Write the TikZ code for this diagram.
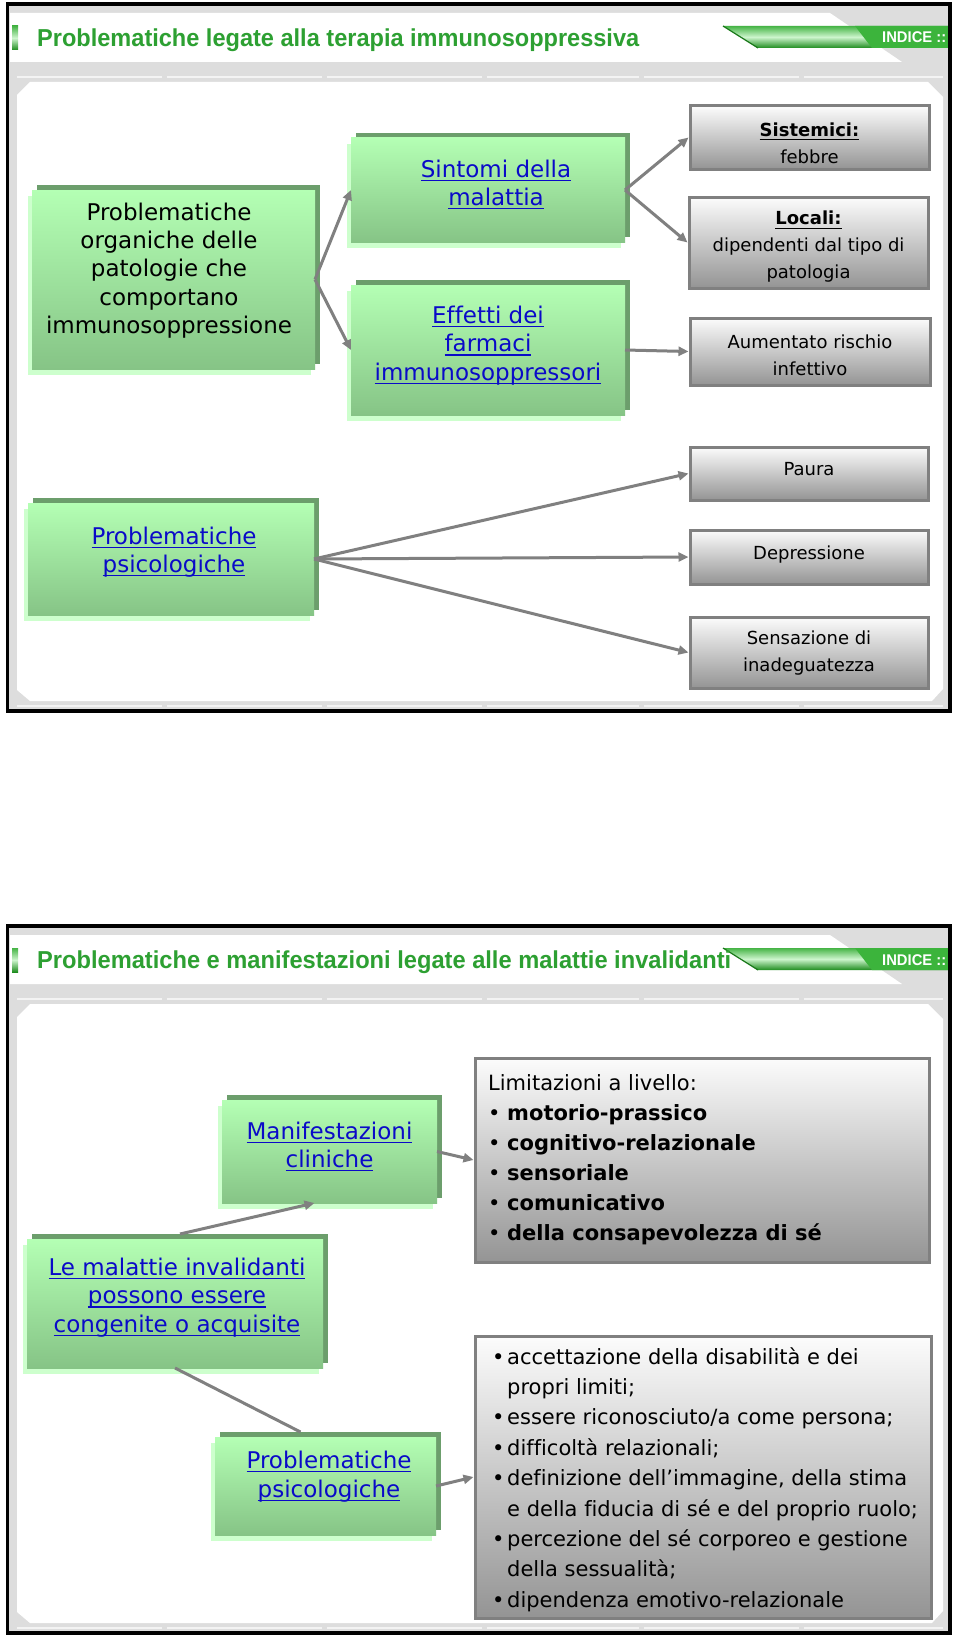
\documentclass[tikz,border=0pt]{standalone}
\usepackage{fontspec}
\setmainfont{DejaVu Sans}[Ligatures=NoCommon]
\newfontfamily\ttlfont{Liberation Sans}
\usepackage{graphicx}
\usetikzlibrary{arrows.meta,shadows}
\definecolor{framegray}{RGB}{221,221,221}
\definecolor{sepgray}{RGB}{243,243,243}
\definecolor{ttlgreen}{RGB}{45,160,50}
\definecolor{gtop}{RGB}{180,255,180}
\definecolor{gbot}{RGB}{134,196,134}
\definecolor{gshadow}{RGB}{108,158,108}
\definecolor{gglow}{RGB}{205,255,205}
\definecolor{lnkblue}{RGB}{10,10,200}
\definecolor{arrgray}{RGB}{128,128,128}
\definecolor{bxtop}{RGB}{252,252,252}
\definecolor{bxbot}{RGB}{148,148,148}
\definecolor{tabtop}{RGB}{70,180,70}
\definecolor{tabmid}{RGB}{205,245,205}
\definecolor{tabbot}{RGB}{30,140,30}
\definecolor{tabsolid}{RGB}{60,180,60}
\definecolor{tabdark}{RGB}{25,120,25}
\newsavebox\lnkbox
\newcommand\lnk[1]{\leavevmode\sbox\lnkbox{#1}\rlap{\rule[-3.8pt]{\wd\lnkbox}{1.2pt}}\usebox\lnkbox}
\tikzset{
  greenbox/.style={inner sep=0pt, outer sep=0pt, top color=gtop, bottom color=gbot, draw=none,
    general shadow={fill=gglow, shadow xshift=-4pt, shadow yshift=-6pt},
    general shadow={fill=gshadow, shadow xshift=5pt, shadow yshift=5pt}},
  graybox/.style={inner sep=0pt, draw=arrgray, line width=3pt, top color=bxtop, bottom color=bxbot},
  gtext/.style={align=center, inner sep=0pt, font=\fontsize{23}{28.4}\selectfont},
  ltext/.style={gtext, text=lnkblue},
  stext/.style={align=center, inner sep=0pt, font=\fontsize{18}{27}\selectfont},
  btext/.style={anchor=base west, inner sep=0pt, font=\fontsize{21}{21}\selectfont},
  conn/.style={draw=arrgray, line width=3pt, -{Triangle[length=10pt,width=9pt]}},
  plainconn/.style={draw=arrgray, line width=3pt},
  ttl/.style={anchor=base west, inner sep=0pt, text=ttlgreen},
}
\newcommand\slidebg[1]{%
  \fill[framegray] (7.5,4) rectangle (950,711);
  \fill[white] (10,13) -- (830,13) -- (902,62) -- (10,62) -- cycle;
  \foreach \sa/\sb in {17/162,167/322,327/482,487/639,644/799,804/943}{
     \draw[sepgray, line width=2pt] (\sa,77) -- (\sb,77);
     \draw[sepgray, line width=2pt] (\sa,706) -- (\sb,706);}
  \fill[white] (17,95) -- (30,82) -- (928,82) -- (943,97) -- (943,689) -- (932,701) -- (30,701) -- (17,690) -- cycle;
  \shade[top color=tabtop, bottom color=tabbot, middle color=tabmid] (723,26) -- (948,26) -- (948,48) -- (758,48) -- cycle;
  \fill[tabsolid] (855,26) -- (948,26) -- (948,48) -- (872,48) -- cycle;
  \draw[tabdark, line width=1.2pt] (758,48) -- (723,26);
  \shade[top color=tabtop, bottom color=tabbot, middle color=tabmid] (12,26) rectangle (18,50);
  \node[anchor=base west, inner sep=0pt, text=white] (#1) at (882,43)
     {\resizebox{64pt}{\height}{\ttlfont\bfseries\fontsize{15.5}{15}\selectfont INDICE ::}};
  \draw[line width=3.5pt] (7.5,4) rectangle (950,711);
}
\begin{document}
\begin{tikzpicture}[x=1pt, y=-1pt]
\useasboundingbox[fill=white] (0,0) rectangle (960,1635);

% ================= SLIDE 1 =================
\slidebg{ind1}
\node[ttl] (title1) at (37,46.5)
  {\resizebox{602pt}{\height}{\ttlfont\bfseries\fontsize{24.5}{24}\selectfont Problematiche legate alla terapia immunosoppressiva}};

\node[greenbox, minimum width=283pt, minimum height=179pt] (A) at (173.5,279.5) {};
\node[greenbox, minimum width=274pt, minimum height=104pt] (B) at (488,190) {};
\node[greenbox, minimum width=274pt, minimum height=130pt] (C) at (488,350) {};
\node[greenbox, minimum width=286pt, minimum height=112pt] (P1) at (171,559) {};

\node[gtext] (Atxt) at (169,270.5) {Problematiche\\organiche delle\\patologie che\\comportano\\immunosoppressione};
\node[ltext] (Btxt) at (496,184.5) {\lnk{Sintomi della}\\\lnk{malattia}};
\node[ltext] (Ctxt) at (488,345.5) {\lnk{Effetti dei}\\\lnk{farmaci}\\\lnk{immunosoppressori}};
\node[ltext] (P1txt) at (174,552) {\lnk{Problematiche}\\\lnk{psicologiche}};

\node[graybox, minimum width=239pt, minimum height=63pt] (Sis) at (809.5,137.5) {};
\node[graybox, minimum width=239pt, minimum height=91pt] (Loc) at (808.5,242.5) {};
\node[graybox, minimum width=240pt, minimum height=67pt] (Aum) at (810,351.5) {};
\node[graybox, minimum width=238pt, minimum height=53pt] (Pau) at (809,473.5) {};
\node[graybox, minimum width=238pt, minimum height=54pt] (Dep) at (809,557) {};
\node[graybox, minimum width=238pt, minimum height=71pt] (Sen) at (809,652.5) {};

\node[stext] (Sistxt) at (809.5,143) {\lnk{\textbf{Sistemici:}}\\febbre};
\node[stext] (Loctxt) at (808.5,247) {\lnk{\textbf{Locali:}}\\dipendenti dal tipo di\\patologia};
\node[stext] (Aumtxt) at (810,355.5) {Aumentato rischio\\infettivo};
\node[stext] (Pautxt) at (809,469.5) {Paura};
\node[stext] (Deptxt) at (809,554.5) {Depressione};
\node[stext] (Sentxt) at (809,653.5) {Sensazione di\\inadeguatezza};

\draw[conn] (A.east) -- (B.west);
\draw[conn] (A.east) -- (C.west);
\draw[conn] (B.east) -- (Sis.west);
\draw[conn] (B.east) -- (Loc.west);
\draw[conn] (C.east) -- (Aum.west);
\draw[conn] (P1.east) -- (Pau.west);
\draw[conn] (P1.east) -- (Dep.west);
\draw[conn] (P1.east) -- (Sen.west);

% ================= SLIDE 2 =================
\begin{scope}[yshift=-922pt]
\slidebg{ind2}
\end{scope}
\node[ttl] (title2) at (37,968.5)
  {\resizebox{694pt}{\height}{\ttlfont\bfseries\fontsize{24.5}{24}\selectfont Problematiche e manifestazioni legate alle malattie invalidanti}};

\node[greenbox, minimum width=215pt, minimum height=103pt] (Man) at (329.5,1151.5) {};
\node[greenbox, minimum width=296pt, minimum height=129pt] (Mal) at (175,1303.5) {};
\node[greenbox, minimum width=221pt, minimum height=98pt] (P2) at (325.5,1486) {};

\node[ltext] (Mantxt) at (329.5,1146.5) {\lnk{Manifestazioni}\\\lnk{cliniche}};
\node[ltext] (Maltxt) at (177,1297.5) {\lnk{Le malattie invalidanti}\\\lnk{possono essere}\\\lnk{congenite o acquisite}};
\node[ltext] (P2txt) at (329,1476.5) {\lnk{Problematiche}\\\lnk{psicologiche}};

\node[graybox, minimum width=454pt, minimum height=204pt] (Lim) at (702,1160) {};
\node[graybox, minimum width=456pt, minimum height=282pt] (Lim2) at (703,1477) {};

\node[btext] (la0) at (488,1090) {Limitazioni a livello:};
\node[btext] (la1) at (488,1120) {\makebox[19pt][l]{•}\textbf{motorio-prassico}};
\node[btext] (la2) at (488,1150) {\makebox[19pt][l]{•}\textbf{cognitivo-relazionale}};
\node[btext] (la3) at (488,1180) {\makebox[19pt][l]{•}\textbf{sensoriale}};
\node[btext] (la4) at (488,1210) {\makebox[19pt][l]{•}\textbf{comunicativo}};
\node[btext] (la5) at (488,1240) {\makebox[19pt][l]{•}\textbf{della consapevolezza di sé}};

\node[btext] (lb1) at (492,1364) {\makebox[15pt][l]{•}accettazione della disabilità e dei};
\node[btext] (lb2) at (492,1394.4) {\hspace*{15pt}propri limiti;};
\node[btext] (lb3) at (492,1424.8) {\makebox[15pt][l]{•}essere riconosciuto/a come persona;};
\node[btext] (lb4) at (492,1455.2) {\makebox[15pt][l]{•}difficoltà relazionali;};
\node[btext] (lb5) at (492,1485.6) {\makebox[15pt][l]{•}definizione dell’immagine, della stima};
\node[btext] (lb6) at (492,1516) {\hspace*{15pt}e della fiducia di sé e del proprio ruolo;};
\node[btext] (lb7) at (492,1546.4) {\makebox[15pt][l]{•}percezione del sé corporeo e gestione};
\node[btext] (lb8) at (492,1576.8) {\hspace*{15pt}della sessualità;};
\node[btext] (lb9) at (492,1607.2) {\makebox[15pt][l]{•}dipendenza emotivo-relazionale};

\draw[conn] ([xshift=5pt,yshift=5pt]Mal.north) -- ([xshift=-15pt]Man.south);
\draw[plainconn] (Mal.south) -- ([xshift=-25pt,yshift=5pt]P2.north);
\draw[conn] (Man.east) -- (Lim.west);
\draw[conn] (P2.east) -- (Lim2.west);
\end{tikzpicture}
\end{document}
